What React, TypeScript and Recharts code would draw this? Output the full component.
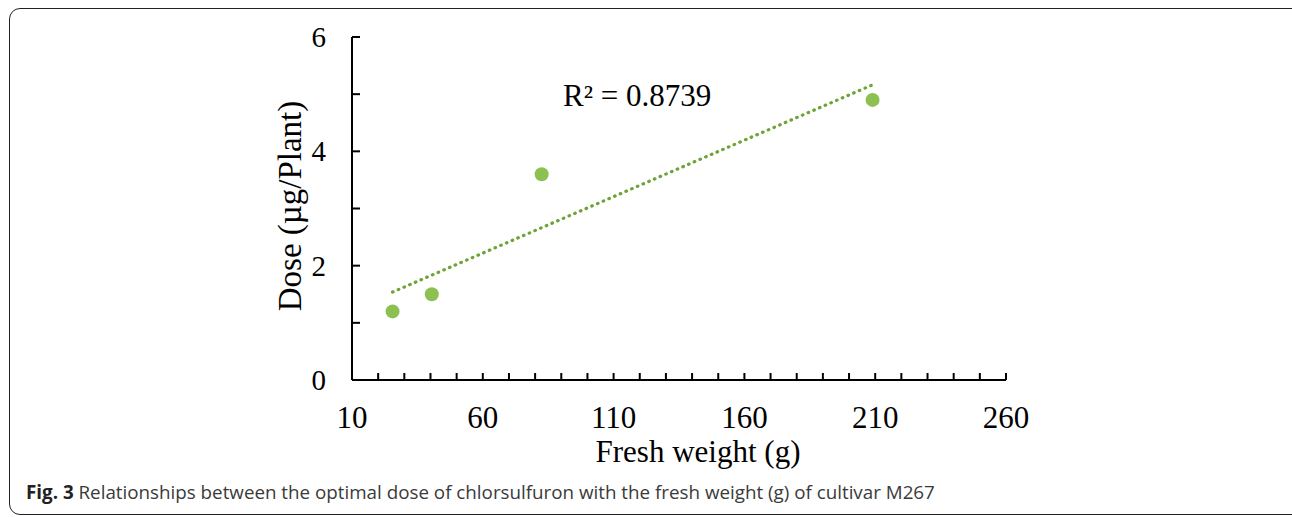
import { Scatter, ScatterChart, XAxis, YAxis } from "recharts";

// Fresh weight (g) and optimal dose (µg/plant)
const freshWeight = [25.5, 40.5, 82.5, 209];
const dose = [1.2, 1.5, 3.6, 4.9];

const xTicks = [10, 20, 30, 40, 50, 60, 70, 80, 90, 100, 110, 120, 130, 140, 150, 160, 170, 180, 190, 200, 210, 220, 230, 240, 250, 260];
const xLabels = [10, 60, 110, 160, 210, 260];
const yTicks = [0, 1, 2, 3, 4, 5, 6];
const yLabels = [0, 2, 4, 6];

const points = freshWeight.map((x, i) => ({ x, y: dose[i] }));

// Linear least-squares trend line over the data range
const n = points.length;
const mx = freshWeight.reduce((a, b) => a + b, 0) / n;
const my = dose.reduce((a, b) => a + b, 0) / n;
const sxy = points.reduce((s, p) => s + (p.x - mx) * (p.y - my), 0);
const sxx = points.reduce((s, p) => s + (p.x - mx) ** 2, 0);
const slope = sxy / sxx;
const intercept = my - slope * mx;
const trend = [Math.min(...freshWeight), Math.max(...freshWeight)].map((x) => ({ x, y: intercept + slope * x }));

const serif = '"Liberation Serif", "Times New Roman", serif';

const XTick = (props: any) => {
  const { x, y, payload } = props;
  const v = payload.value;
  return (
    <g>
      <line x1={x} x2={x} y1={y} y2={y - 7} stroke="#000" strokeWidth={2} />
      {xLabels.includes(v) && (
        <text x={x} y={y + 48} textAnchor="middle" fontFamily={serif} fontSize={31} fill="#000">
          {v}
        </text>
      )}
    </g>
  );
};

const YTick = (props: any) => {
  const { x, y, payload } = props;
  const v = payload.value;
  return (
    <g>
      <line x1={x} x2={x + 8} y1={y} y2={y} stroke="#000" strokeWidth={2} />
      {yLabels.includes(v) && (
        <text x={x - 26} y={y + 10} textAnchor="end" fontFamily={serif} fontSize={29} fill="#000">
          {v}
        </text>
      )}
    </g>
  );
};

export default function App() {
  return (
    <div style={{ position: "absolute", left: 0, top: 0, width: 1292, height: 517, background: "#fff", overflow: "hidden" }}>
      <div
        style={{
          position: "absolute",
          left: 9,
          top: 8,
          width: 1300,
          height: 505,
          border: "1.5px solid #222",
          borderRadius: 11,
        }}
      />
      <div style={{ position: "absolute", left: 0, top: 0 }}>
        <ScatterChart width={1292} height={517} margin={{ top: 37, right: 286, bottom: 77, left: 272 }}>
          <XAxis
            type="number"
            dataKey="x"
            domain={[10, 260]}
            ticks={xTicks}
            interval={0}
            height={60}
            tickSize={0}
            tickMargin={0}
            tick={<XTick />}
            axisLine={{ stroke: "#000", strokeWidth: 2 }}
            tickLine={false}
          />
          <YAxis
            type="number"
            dataKey="y"
            domain={[0, 6]}
            ticks={yTicks}
            interval={0}
            width={80}
            tickSize={0}
            tickMargin={0}
            tick={<YTick />}
            axisLine={{ stroke: "#000", strokeWidth: 2 }}
            tickLine={false}
          />
          <Scatter
            data={trend}
            line={{ stroke: "#6FA335", strokeWidth: 3.2, strokeDasharray: "0.6 5.6", strokeLinecap: "round" }}
            shape={() => null}
            isAnimationActive={false}
          />
          <Scatter data={points} fill="#8CC152" shape={(p: any) => <circle cx={p.cx} cy={p.cy} r={7} fill="#8CC152" />} isAnimationActive={false} />
        </ScatterChart>
      </div>
      <div
        style={{
          position: "absolute",
          left: 290,
          top: 206,
          transform: "translate(-50%, -50%) rotate(-90deg)",
          whiteSpace: "nowrap",
          fontFamily: serif,
          fontSize: 33,
          color: "#000",
        }}
      >
        Dose (µg/Plant)
      </div>
      <div
        style={{
          position: "absolute",
          left: 698,
          top: 452,
          transform: "translate(-50%, -50%)",
          whiteSpace: "nowrap",
          fontFamily: serif,
          fontSize: 31,
          color: "#000",
        }}
      >
        Fresh weight (g)
      </div>
      <div
        style={{
          position: "absolute",
          left: 563,
          top: 78,
          whiteSpace: "nowrap",
          fontFamily: serif,
          fontSize: 31,
          lineHeight: "36px",
          color: "#000",
        }}
      >
        R² = 0.8739
      </div>
      <div
        style={{
          position: "absolute",
          left: 26,
          top: 480,
          whiteSpace: "nowrap",
          fontFamily: '"Open Sans", sans-serif',
          fontSize: 18.8,
          lineHeight: "24px",
          color: "#3a3a3a",
        }}
      >
        <b style={{ color: "#222" }}>Fig. 3</b> Relationships between the optimal dose of chlorsulfuron with the fresh weight (g) of cultivar M267
      </div>
    </div>
  );
}
